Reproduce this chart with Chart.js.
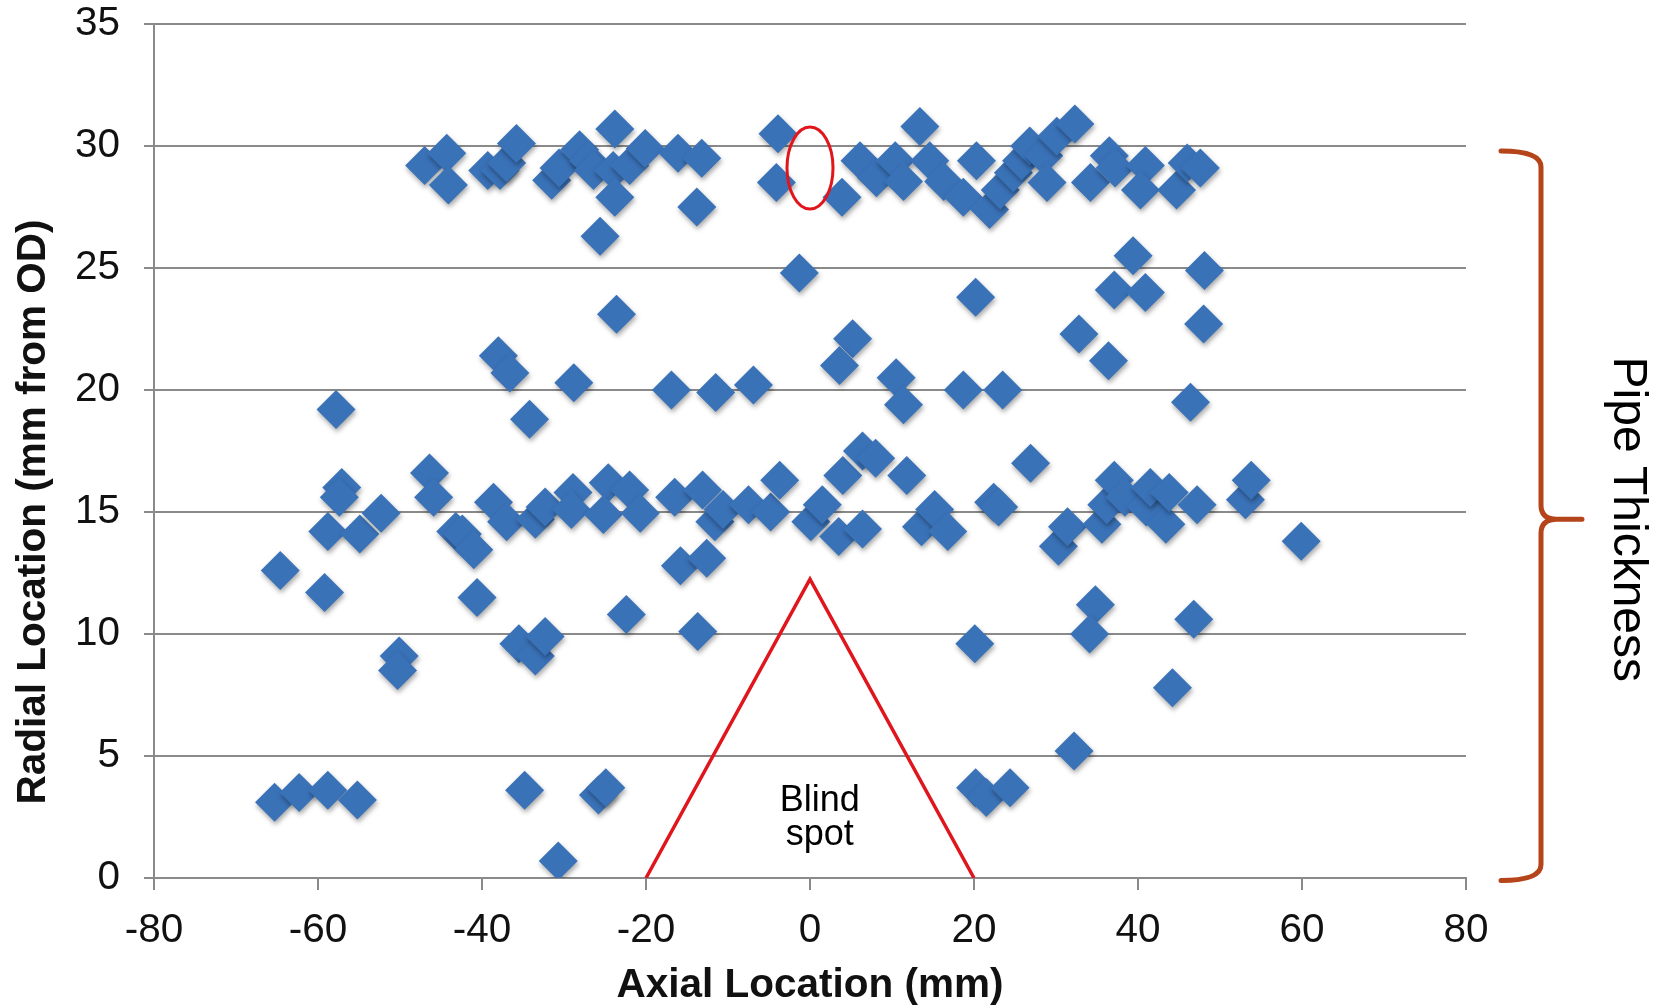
<!DOCTYPE html>
<html>
<head>
<meta charset="utf-8">
<script src="https://cdn.jsdelivr.net/npm/chart.js@4"></script>
<style>
  html, body { margin: 0; padding: 0; background: #fff; }
</style>
</head>
<body>
<canvas id="chart" width="1667" height="1008"></canvas>
<script>
// axial location (mm) and radial location (mm from OD)
const axialMm = [
    -47.0, -44.3, -44.1, -39.3, -37.8, -37.0, -35.8, -31.5, -30.6, -28.1, -27.0, -26.4,
    -23.8, -24.0, -22.0, -20.1, -23.8, -16.1, -13.2, -13.8, -25.6, -23.6,
    -3.9, -4.1, -1.3, 3.9, 6.1, 8.1, 10.4, 11.4, 13.4, 14.6, 16.3, 18.7, 20.3, 21.9,
    23.2, 24.8, 25.8, 26.8, 28.5, 28.9, 30.1, 32.3, 34.2, 36.5, 37.2, 40.9, 40.3, 44.7,
    46.0, 47.6,
    39.4, 37.1, 40.9, 48.1, 48.0, 20.2, 32.8, 36.4, 5.2, 3.6, 10.5, 11.4, 18.7, 23.5,
    46.4, -6.9, -11.5, -16.9, -28.8, -38.0, -36.6, -34.2, -57.8,
    -64.6, -59.2, -58.8, -57.1, -57.4, -54.9, -52.3, -46.4, -45.9, -43.2, -42.4, -41.0,
    -40.6, -38.6, -37.0, -33.5, -32.3, -28.9, -29.1, -24.6, -25.2, -22.0, -20.7, -16.5,
    -13.1, -11.6, -10.6, -15.8, -12.6, -7.5, -4.8, -3.7, 0.1, 1.5, 3.5, 6.4, 4.0, 6.4,
    8.0, 11.8, 13.6, 15.2, 16.8, 22.4, 23.0, 26.9, 30.3, 31.4, 35.6, 36.2, 37.1, 38.4,
    41.0, 41.5, 43.4, 43.8, 47.2, 53.1, 53.8, 59.9,
    -50.1, -50.3, -35.5, -33.5, -32.3, -22.4, -13.7, 20.1, 32.2, 34.8, 34.1, 46.8, 44.2,
    -65.3, -62.3, -58.8, -55.2, -34.8, -30.7, -25.8, -24.9, 20.2, 21.5, 24.4
];
const radialMm = [
    29.2, 29.7, 28.4, 29.0, 29.0, 29.3, 30.1, 28.6, 29.1, 29.85, 29.4, 29.0,
    30.7, 29.0, 29.2, 29.9, 27.9, 29.7, 29.5, 27.5, 26.3, 23.1,
    30.5, 28.5, 24.8, 27.9, 29.4, 28.7, 29.4, 28.55, 30.8, 29.4, 28.55, 27.9, 29.4, 27.4,
    28.2, 28.9, 29.4, 30.0, 29.6, 28.5, 30.4, 30.9, 28.5, 29.6, 29.1, 29.2, 28.2, 28.2,
    29.3, 29.1,
    25.5, 24.1, 24.0, 24.9, 22.7, 23.8, 22.3, 21.2, 22.1, 21.0, 20.5, 19.4, 20.0, 20.0,
    19.5, 20.2, 19.9, 20.0, 20.3, 21.4, 20.7, 18.8, 19.2,
    12.6, 11.7, 14.2, 16.0, 15.6, 14.1, 14.95, 16.6, 15.6, 14.2, 14.1, 13.45,
    11.5, 15.4, 14.6, 14.7, 15.2, 15.8, 15.1, 16.2, 14.9, 15.9, 14.95, 15.6,
    15.9, 14.6, 15.1, 12.8, 13.1, 15.3, 15.0, 16.3, 14.6, 15.3, 14.0, 14.3, 16.5, 17.5,
    17.2, 16.5, 14.4, 15.1, 14.2, 15.4, 15.2, 17.0, 13.6, 14.4, 14.5, 15.3, 16.3, 15.6,
    15.2, 16.0, 14.5, 15.8, 15.3, 15.5, 16.3, 13.8,
    9.1, 8.5, 9.6, 9.1, 9.9, 10.8, 10.1, 9.6, 5.2, 11.2, 10.0, 10.6, 7.8,
    3.1, 3.5, 3.6, 3.2, 3.6, 0.7, 3.4, 3.7, 3.7, 3.3, 3.7
];

// blind spot triangle
const blindX = [-20, 0, 20];
const blindY = [0, 12.25, 0];

const FONT = '"Liberation Sans", Arial, Helvetica, sans-serif';
const GRID = '#8a8a8a';
const BLUE = '#3a72b8';
const RED = '#e0161c';
const BRACE = '#b5441b';

var points = [];
axialMm.forEach(function (x, i) {
    points.push({ x: x, y: radialMm[i] });
});
var triangle = blindX.map(function (x, i) {
    return { x: x, y: blindY[i] };
});

const annotations = {
    id: 'annotations',
    beforeDatasetDraw(chart, args) {
        if (args.index !== 0) return;
        const ctx = chart.ctx;
        ctx.save();
        ctx.shadowColor = 'rgba(0,0,0,0.35)';
        ctx.shadowBlur = 5;
        ctx.shadowOffsetX = 1;
        ctx.shadowOffsetY = 3;
    },
    afterDatasetDraw(chart, args) {
        if (args.index === 0) chart.ctx.restore();
    },
    afterDatasetsDraw(chart) {
        const ctx = chart.ctx;
        const xs = chart.scales.x, ys = chart.scales.y;

        // red ellipse round the gap near 0 mm
        ctx.save();
        ctx.strokeStyle = RED;
        ctx.lineWidth = 3;
        ctx.beginPath();
        ctx.ellipse(xs.getPixelForValue(0), ys.getPixelForValue(29.1), 23, 41, 0, 0, Math.PI * 2);
        ctx.stroke();

        // blind spot label
        ctx.fillStyle = '#000';
        ctx.font = '36px ' + FONT;
        ctx.textAlign = 'center';
        ctx.textBaseline = 'alphabetic';
        const cx = xs.getPixelForValue(1.2);
        const by = ys.getPixelForValue(2.75);
        ctx.fillText('Blind', cx, by);
        ctx.fillText('spot', cx, by + 34);
        ctx.restore();
    },
    afterDraw(chart) {
        const ctx = chart.ctx;
        const area = chart.chartArea;
        const ys = chart.scales.y;
        const top = ys.getPixelForValue(29.8);
        const bottom = ys.getPixelForValue(-0.1);
        const mid = ys.getPixelForValue(14.7);
        const x0 = area.right + 35;
        const xv = area.right + 75;
        const xt = area.right + 116;

        // y axis title, sits a little below the middle of the axis
        ctx.save();
        ctx.translate(34, 512);
        ctx.rotate(-Math.PI / 2);
        ctx.fillStyle = '#111';
        ctx.font = 'bold 40.5px ' + FONT;
        ctx.textAlign = 'center';
        ctx.textBaseline = 'middle';
        ctx.fillText('Radial Location (mm from OD)', 0, 0);
        ctx.restore();

        // curly brace for the pipe wall
        ctx.save();
        ctx.strokeStyle = BRACE;
        ctx.lineWidth = 5;
        ctx.lineCap = 'round';
        ctx.lineJoin = 'round';
        ctx.beginPath();
        ctx.moveTo(x0, top);
        ctx.quadraticCurveTo(xv, top, xv, top + 16);
        ctx.lineTo(xv, mid - 14);
        ctx.quadraticCurveTo(xv, mid, xv + 16, mid);
        ctx.lineTo(xt, mid);
        ctx.moveTo(xv + 16, mid);
        ctx.quadraticCurveTo(xv, mid, xv, mid + 14);
        ctx.lineTo(xv, bottom - 16);
        ctx.quadraticCurveTo(xv, bottom, x0, bottom);
        ctx.stroke();

        ctx.translate(area.right + 161, mid);
        ctx.rotate(Math.PI / 2);
        ctx.fillStyle = '#000';
        ctx.font = '48px ' + FONT;
        ctx.textAlign = 'center';
        ctx.textBaseline = 'middle';
        ctx.fillText('Pipe Thickness', 0, 0);
        ctx.restore();
    }
};

var data = {
    datasets: [{
        data: points,
        pointStyle: 'rectRot',
        pointRadius: 19.5,
        pointHoverRadius: 19.5,
        backgroundColor: BLUE,
        borderColor: BLUE,
        borderWidth: 0,
        showLine: false
    }, {
        data: triangle,
        showLine: true,
        pointRadius: 0,
        borderColor: RED,
        borderWidth: 3.5,
        fill: false
    }]
};

var options = {
    responsive: false,
    animation: false,
    layout: {
        padding: { top: 24, right: 201, bottom: 0, left: 0 }
    },
    scales: {
        x: {
            type: 'linear',
            min: -80,
            max: 80,
            afterFit: function (scale) { scale.height = 130; },
            border: { display: true, color: GRID, width: 2 },
            grid: {
                drawOnChartArea: false,
                drawTicks: true,
                tickLength: 12,
                color: GRID,
                lineWidth: 2
            },
            ticks: {
                stepSize: 20,
                padding: 17,
                color: '#111',
                font: { family: FONT, size: 40.5 }
            },
            title: {
                display: true,
                text: 'Axial Location (mm)',
                color: '#111',
                padding: { top: 0, bottom: -2 },
                font: { family: FONT, size: 40.5, weight: 'bold' }
            }
        },
        y: {
            min: 0,
            max: 35,
            afterFit: function (scale) {
                scale.width = 154;
                // labels may hang past the plot edge, keep the plot where it is
                scale.paddingTop = 0;
                scale.paddingBottom = 0;
            },
            border: { display: true, color: GRID, width: 2 },
            grid: {
                color: GRID,
                lineWidth: 2,
                drawTicks: true,
                tickLength: 10
            },
            ticks: {
                stepSize: 5,
                padding: 24,
                color: '#111',
                font: { family: FONT, size: 40.5 }
            }
        }
    },
    plugins: {
        legend: { display: false },
        tooltip: { enabled: false }
    }
};

var chart = new Chart(document.getElementById('chart'), {
    type: 'scatter',
    data: data,
    options: options,
    plugins: [annotations]
});
</script>
</body>
</html>
